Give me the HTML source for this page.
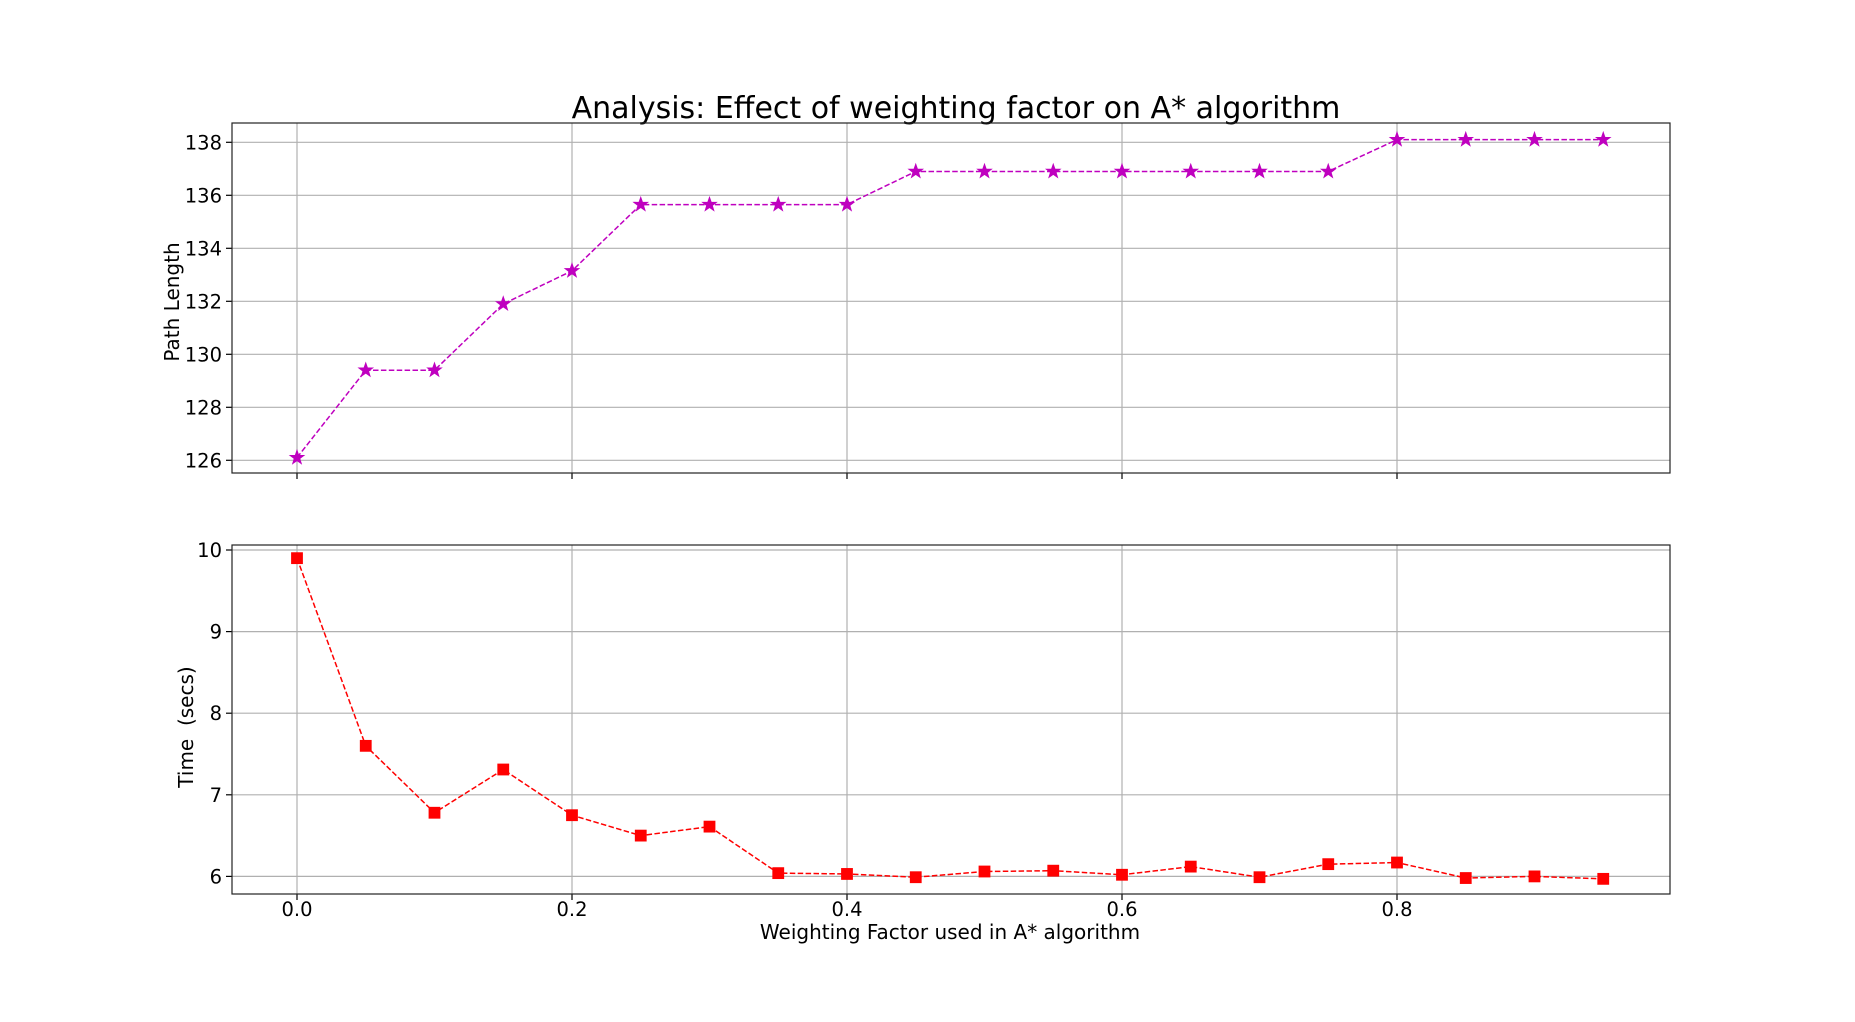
<!DOCTYPE html>
<html><head><meta charset="utf-8">
<style>
html,body{margin:0;padding:0;background:#fff;}
svg{display:block;font-family:"DejaVu Sans","Liberation Sans",sans-serif;}
</style></head>
<body>
<svg id="chart" width="1855" height="1022" viewBox="0 0 1855 1022" xmlns="http://www.w3.org/2000/svg">
<rect width="1855" height="1022" fill="#fff"/>
<text x="956" y="118" font-size="30" text-anchor="middle" fill="#000">Analysis: Effect of weighting factor on A* algorithm</text>
<g id="top"></g>
<g id="bottom"></g>
<text x="950" y="939" font-size="20" text-anchor="middle" fill="#000">Weighting Factor used in A* algorithm</text>
<text transform="translate(179,302) rotate(-90)" font-size="20" text-anchor="middle" fill="#000">Path Length</text>
<text transform="translate(193,727) rotate(-90)" font-size="20" text-anchor="middle" fill="#000" xml:space="preserve">Time  (secs)</text>
</svg>
<script>
const weights = [0,0.05,0.1,0.15,0.2,0.25,0.3,0.35,0.4,0.45,0.5,0.55,0.6,0.65,0.7,0.75,0.8,0.85,0.9,0.95];
const pathLength = [126.1,129.4,129.4,131.9,133.15,135.65,135.65,135.65,135.65,136.9,136.9,136.9,136.9,136.9,136.9,136.9,138.1,138.1,138.1,138.1];
const timeSecs = [9.9,7.6,6.78,7.31,6.75,6.5,6.61,6.04,6.03,5.99,6.06,6.07,6.02,6.12,5.99,6.15,6.17,5.98,6.0,5.97];
const xTicks = [0.0,0.2,0.4,0.6,0.8];
const xTickLabels = ["0.0","0.2","0.4","0.6","0.8"];
const topYTicks = [126,128,130,132,134,136,138];
const bottomYTicks = [6,7,8,9,10];

const NS = "http://www.w3.org/2000/svg";
const X0 = 232, X1 = 1670;
function xScale(v){ return 297 + v * 1375; }
function topY(v){ return 142.3 + (138 - v) * 26.5; }
function botY(v){ return 550 + (10 - v) * 81.6; }

function mk(tag, attrs, parent){
  const e = document.createElementNS(NS, tag);
  for (const k in attrs) e.setAttribute(k, attrs[k]);
  parent.appendChild(e);
  return e;
}

function starPath(cx, cy, r){
  let d = "";
  for (let i = 0; i < 10; i++){
    const rr = i % 2 === 0 ? r : r * 0.4;
    const a = -Math.PI/2 + i * Math.PI/5;
    d += (i ? "L" : "M") + (cx + rr*Math.cos(a)).toFixed(2) + "," + (cy + rr*Math.sin(a)).toFixed(2);
  }
  return d + "Z";
}

function panel(g, name, yTop, yBot, yTicks, yFn, data, color, marker, showXLabels){
  for (const t of xTicks){
    const l = mk("line", {x1:xScale(t), x2:xScale(t), y1:yTop, y2:yBot, stroke:"#b0b0b0", "stroke-width":1.2}, g);
    
    
    const tk = mk("line", {x1:xScale(t), x2:xScale(t), y1:yBot, y2:yBot+6, stroke:"#000", "stroke-width":1.2}, g);
    
    
  }
  if (showXLabels){
    xTicks.forEach((t, i) => {
      const tx = mk("text", {x:xScale(t), y:yBot+22, "font-size":19.5, "text-anchor":"middle", fill:"#000"}, g);
      tx.textContent = xTickLabels[i];
      
      
    });
  }
  for (const t of yTicks){
    const y = yFn(t);
    const l = mk("line", {x1:X0, x2:X1, y1:y, y2:y, stroke:"#b0b0b0", "stroke-width":1.2}, g);
    
    
    const tk = mk("line", {x1:X0-6, x2:X0, y1:y, y2:y, stroke:"#000", "stroke-width":1.2}, g);
    
    
    const tx = mk("text", {x:X0-10, y:y+7, "font-size":19.5, "text-anchor":"end", fill:"#000"}, g);
    tx.textContent = String(t);
    
    
  }
  const pts = data.map((v, i) => xScale(weights[i]).toFixed(2) + "," + yFn(v).toFixed(2)).join(" ");
  const line = mk("polyline", {points:pts, fill:"none", stroke:color, "stroke-width":1.5, "stroke-dasharray":"5.5,2.4"}, g);
  
  
  data.forEach((v, i) => {
    const cx = xScale(weights[i]), cy = yFn(v);
    let m;
    if (marker === "star"){
      m = mk("path", {d:starPath(cx, cy, 7.5), fill:color, stroke:color, "stroke-width":0.8}, g);
    } else {
      m = mk("rect", {x:cx-5.5, y:cy-5.5, width:11, height:11, fill:color, stroke:color, "stroke-width":0.8}, g);
    }
    
    
  });
  const fr = mk("rect", {x:X0, y:yTop, width:X1-X0, height:yBot-yTop, fill:"none", stroke:"#222", "stroke-width":1.2}, g);
  
  
}

panel(document.getElementById("top"), "path-length", 123, 473, topYTicks, topY, pathLength, "#bf00bf", "star", false);
panel(document.getElementById("bottom"), "time", 545, 894, bottomYTicks, botY, timeSecs, "#ff0000", "square", true);
</script>
</body></html>
